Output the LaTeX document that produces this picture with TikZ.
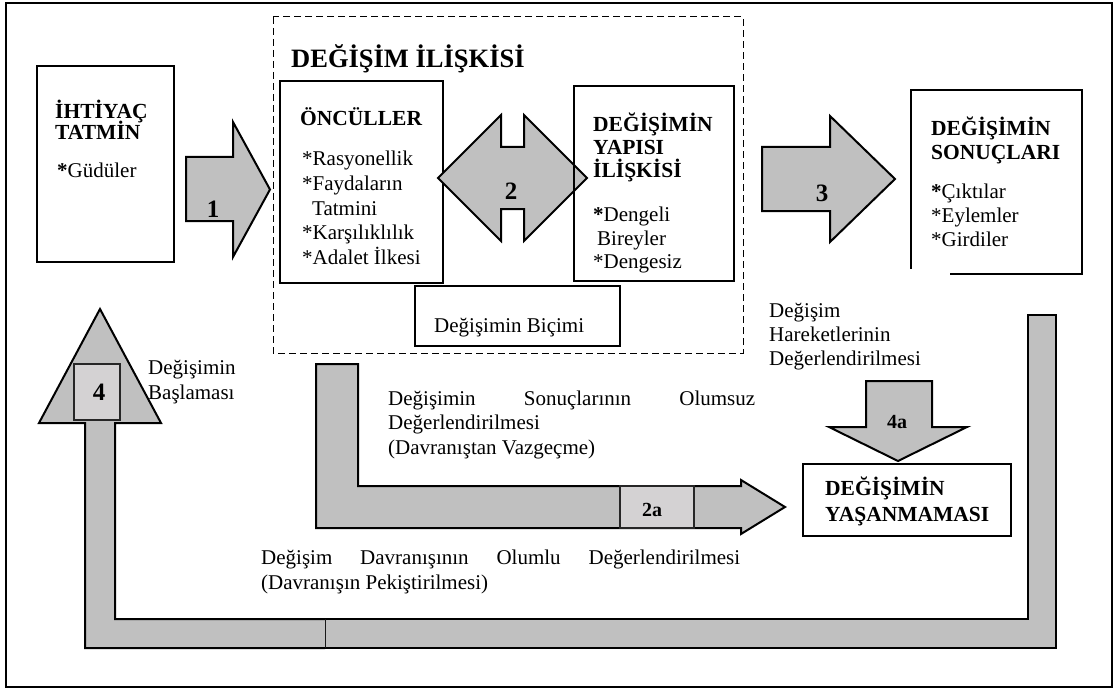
\documentclass[tikz,border=0pt]{standalone}
\usepackage{fontspec}
\setmainfont{Liberation Serif}
\definecolor{arr}{HTML}{C0C0C0}
\definecolor{lite}{HTML}{D4D2D3}
\begin{document}
\begin{tikzpicture}[x=1pt,y=-1pt,
  tx/.style={anchor=base west,inner sep=0pt,font=\fontsize{21}{24}\selectfont},
  hd/.style={anchor=base west,inner sep=0pt,font=\fontsize{21.5}{22}\selectfont\bfseries},
  num/.style={inner sep=0pt,font=\fontsize{25}{25}\selectfont\bfseries},
  nums/.style={inner sep=0pt,font=\fontsize{20}{20}\selectfont\bfseries},
  box/.style={draw=black,line width=1.1pt},
  blk/.style={draw=black,line width=2pt,fill=arr,line join=miter},
  litebox/.style={draw=black!85,line width=1.2pt,fill=lite},
]
\useasboundingbox (0,0) rectangle (1117,690);
\fill[white] (0,0) rectangle (1117,690);
% outer frame
\draw[line width=2.5pt] (6,3) rectangle (1112,687);

% ---- IHTIYAC TATMIN
\draw[box] (37,66) rectangle (174,262);
\node[hd] (ih1) at (55,119) {İHTİYAÇ};
\node[hd] (ih2) at (55,140) {TATMİN};
\node[tx] (ih3) at (57,178) {\textbf{*}Güdüler};

% arrow 1
\draw[blk] (186,157) -- (233,157) -- (233,122) -- (270,189.5) -- (233,257) -- (233,221) -- (186,221) -- cycle;
\node[num] (n1) at (213,209) {1};

% dashed frame
\draw[line width=1pt,dash pattern=on 7pt off 4pt] (273,17) rectangle (743,353);
\node[anchor=base west,inner sep=0pt,font=\fontsize{26.5}{28}\selectfont\bfseries] (title) at (291,68) {DEĞİŞİM İLİŞKİSİ};

% ONCULLER
\draw[box] (280,81) rectangle (443,283);
\node[hd] (on0) at (300,126) {ÖNCÜLLER};
\node[tx] (on1) at (302,166) {*Rasyonellik};
\node[tx] (on2) at (302,190.5) {*Faydaların};
\node[tx] (on3) at (312,215) {Tatmini};
\node[tx] (on4) at (302,239.5) {*Karşılıklılık};
\node[tx] (on5) at (302,264) {*Adalet İlkesi};

% double arrow 2
\draw[blk] (438,178) -- (501,115) -- (501,147) -- (524,147) -- (524,115) -- (587,178)
  -- (524,241) -- (524,209) -- (501,209) -- (501,241) -- cycle;
\node[num] (n2) at (511,191) {2};

% YAPISI
\draw[box] (574,86) rectangle (734,281);
\node[hd] (ya1) at (593,132) {DEĞİŞİMİN};
\node[hd] (ya2) at (593,155) {YAPISI};
\node[hd] (ya3) at (593,178) {İLİŞKİSİ};
\node[tx] (ya4) at (593,222) {\textbf{*}Dengeli};
\node[tx] (ya5) at (597,245) {Bireyler};
\node[tx] (ya6) at (593,268.5) {*Dengesiz};

% Bicimi
\draw[box] (415,286) rectangle (620,346);
\node[tx] (bic) at (434,332) {Değişimin Biçimi};

% arrow 3
\draw[blk] (762,147) -- (830,147) -- (830,116) -- (895,179) -- (830,242) -- (830,211) -- (762,211) -- cycle;
\node[num] (n3) at (822,193) {3};

% SONUCLARI
\draw[box] (950,274) -- (1082,274) -- (1082,90) -- (911,90) -- (911,269);
\node[hd] (so1) at (931,136) {DEĞİŞİMİN};
\node[hd] (so2) at (931,160) {SONUÇLARI};
\node[tx] (so3) at (931,199) {\textbf{*}Çıktılar};
\node[tx] (so4) at (931,222.5) {*Eylemler};
\node[tx] (so5) at (931,246) {*Girdiler};

% right text
\node[tx] (hr1) at (769,317) {Değişim};
\node[tx] (hr2) at (769,341) {Hareketlerinin};
\node[tx] (hr3) at (769,365) {Değerlendirilmesi};

% arrow 4a
\draw[blk] (866,381) -- (932,381) -- (932,427) -- (967,427) -- (898,461) -- (829,427) -- (866,427) -- cycle;
\node[nums] (n4a) at (897,422) {4a};

% YASANMAMASI
\draw[line width=2.2pt] (803,464) rectangle (1011,536);
\node[hd] (yas1) at (825,495) {DEĞİŞİMİN};
\node[hd] (yas2) at (825,521) {YAŞANMAMASI};

% big loop arrow
\draw[blk] (325,619) -- (1028,619) -- (1028,315) -- (1056,315) -- (1056,648) -- (325,648) -- cycle;
\draw[blk] (325,619) -- (115,619) -- (115,423) -- (161,423) -- (100,309) -- (39,423) -- (85,423) -- (85,648) -- (325,648);
\draw[litebox] (74,364) rectangle (120,420);
\node[num] (n4) at (99,392) {4};
\node[tx] (bas1) at (148,374) {Değişimin};
\node[tx] (bas2) at (148,399) {Başlaması};

% arrow 2a
\draw[blk] (316,364) -- (358,364) -- (358,486) -- (741,486) -- (741,480) -- (785,507) -- (741,534) -- (741,528) -- (316,528) -- cycle;
\draw[litebox] (620,486) rectangle (694,528);
\node[nums] (n2a) at (652,510) {2a};

% paragraph texts
\node[tx] (ol1) at (388,405) {\hbox to 367pt{Değişimin\hfil Sonuçlarının\hfil Olumsuz}};
\node[tx] (ol2) at (388,429) {Değerlendirilmesi};
\node[tx] (ol3) at (388,454) {(Davranıştan Vazgeçme)};
\node[tx] (po1) at (261,564) {\hbox to 479pt{Değişim\hfil Davranışının\hfil Olumlu\hfil Değerlendirilmesi}};
\node[tx] (po2) at (261,589) {(Davranışın Pekiştirilmesi)};
\end{tikzpicture}
\end{document}
